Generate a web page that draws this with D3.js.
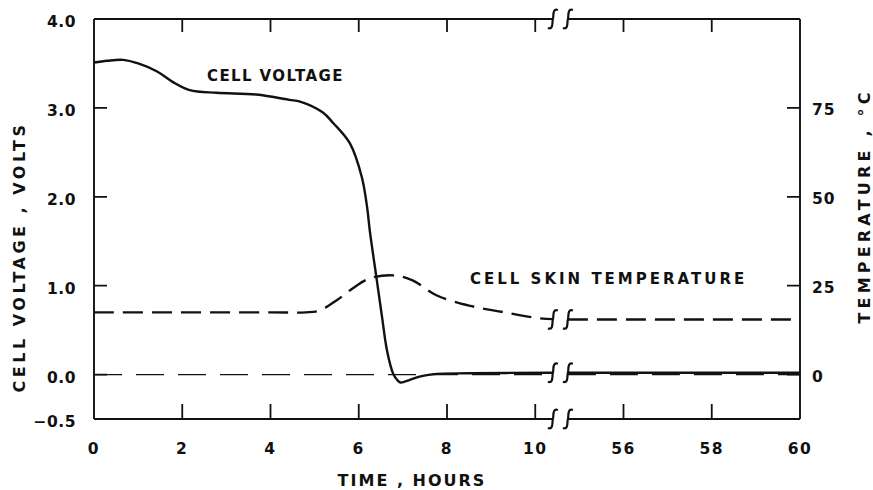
<!DOCTYPE html>
<html>
<head>
<meta charset="utf-8">
<script src="https://cdn.jsdelivr.net/npm/d3@7"></script>
<style>
  body { margin: 0; background: #fff; }
  text { font-family: "DejaVu Sans", sans-serif; font-weight: bold; fill: #111; }
</style>
</head>
<body>
<svg id="chart" width="873" height="490"></svg>
<script>
(function() {

  // cell voltage, volts
  var voltHours = [0, 0.3, 0.66, 1.0, 1.43, 1.79, 2.17, 2.78, 3.68, 4.43, 4.67, 5.18, 5.42, 5.8,
                   6.07, 6.19, 6.25, 6.41, 6.53, 6.64, 6.78, 6.89, 6.95, 7.16, 7.4, 7.7, 8.5, 10.4,
                   54.74, 60];
  var voltValues = [3.51, 3.53, 3.54, 3.50, 3.41, 3.29, 3.20, 3.17, 3.15, 3.09, 3.07, 2.95, 2.83, 2.60,
                    2.22, 1.88, 1.62, 1.06, 0.64, 0.27, 0.01, -0.07, -0.09, -0.06, -0.02, 0.005, 0.015, 0.02,
                    0.02, 0.02];

  // cell skin temperature, deg C
  var tempHours = [0, 4.0, 4.8, 5.11, 5.5, 5.86, 6.24, 6.77, 7.22, 7.76, 8.5, 9.26, 10.1, 10.4, 54.74, 60];
  var tempValues = [17.5, 17.5, 17.5, 18.0, 20.9, 24.2, 27.0, 27.9, 26.5, 22.3, 19.4, 17.6, 15.8, 15.6, 15.5, 15.5];

  var xTicks = [0, 2, 4, 6, 8, 10, 56, 58, 60];
  var voltTicks = [4.0, 3.0, 2.0, 1.0, 0.0, -0.5];
  var tempTicks = [0, 25, 50, 75];

  // broken time axis: 10.4 h jumps to 54.74 h
  var breakFrom = 10.4, breakTo = 54.74, breakShift = 44;

  var margin = { top: 19, right: 73, bottom: 71, left: 94 },
      svg = d3.select("#chart"),
      width = +svg.attr("width") - margin.left - margin.right,
      height = +svg.attr("height") - margin.top - margin.bottom;

  var g = svg.append("g").attr("transform", "translate(" + margin.left + "," + margin.top + ")");

  var disp = function(t) { return t > breakFrom + 1 ? t - breakShift : t; };

  var x = d3.scaleLinear().domain([0, 16]).range([0, width]);
  var yV = d3.scaleLinear().domain([-0.5, 4.0]).range([height, 0]);
  var yT = d3.scaleLinear().domain([-12.5, 100]).range([height, 0]);

  var xb0 = x(disp(breakFrom)), xb1 = x(disp(breakTo));
  var fmtV = d3.format(".1f");
  var inner = xTicks.filter(function(d) { return d !== 0 && d !== 60; });

  // tick marks, all pointing inward, as one path
  var tickPath = d3.path();
  inner.forEach(function(d) {
    var px = x(disp(d));
    tickPath.moveTo(px, 0); tickPath.lineTo(px, 13);
    tickPath.moveTo(px, height); tickPath.lineTo(px, height - 15);
  });
  voltTicks.forEach(function(d) { tickPath.moveTo(0, yV(d)); tickPath.lineTo(13, yV(d)); });
  tempTicks.forEach(function(d) { tickPath.moveTo(width, yT(d)); tickPath.lineTo(width - 13, yT(d)); });
  g.append("path").attr("d", tickPath.toString())
    .attr("fill", "none").attr("stroke", "#111").attr("stroke-width", 1.8);

  var frame = [
    [0, 0, 0, height], [width, 0, width, height],
    [0, 0, xb0, 0], [xb1, 0, width, 0],
    [0, height, xb0, height], [xb1, height, width, height]
  ];
  g.selectAll(".frame").data(frame).enter().append("line")
    .attr("x1", function(d) { return d[0]; }).attr("y1", function(d) { return d[1]; })
    .attr("x2", function(d) { return d[2]; }).attr("y2", function(d) { return d[3]; })
    .attr("stroke", "#111").attr("stroke-width", 1.9);

  // tick labels
  g.selectAll(".xlab").data(xTicks).enter().append("text")
    .attr("x", function(d) { return x(disp(d)); }).attr("y", height + 35)
    .attr("text-anchor", "middle").attr("font-size", 15.5).attr("letter-spacing", 1.5)
    .text(function(d) { return d; });
  g.selectAll(".ylab").data(voltTicks).enter().append("text")
    .attr("x", -18).attr("y", function(d) { return yV(d) + 8; })
    .attr("text-anchor", "end").attr("font-size", 15.5).attr("letter-spacing", 0.5)
    .text(function(d) { return d < 0 ? "\u2212" + fmtV(-d) : fmtV(d); });
  g.selectAll(".tlab").data(tempTicks).enter().append("text")
    .attr("x", width + 12).attr("y", function(d) { return yT(d) + 7; })
    .attr("font-size", 15.5).attr("letter-spacing", 1)
    .text(function(d) { return d; });

  // zero reference line
  [[0, breakFrom], [breakTo, 60]].forEach(function(s) {
    g.append("line")
      .attr("x1", x(disp(s[0]))).attr("x2", x(disp(s[1])))
      .attr("y1", yV(0)).attr("y2", yV(0))
      .attr("stroke", "#111").attr("stroke-width", 1.3)
      .attr("stroke-dasharray", "28,14");
  });

  var lineV = d3.line().curve(d3.curveCatmullRom.alpha(0.5))
    .x(function(d) { return x(disp(d[0])); }).y(function(d) { return yV(d[1]); });
  var lineT = d3.line().curve(d3.curveCatmullRom.alpha(0.5))
    .x(function(d) { return x(disp(d[0])); }).y(function(d) { return yT(d[1]); });

  var voltPts = d3.zip(voltHours, voltValues),
      tempPts = d3.zip(tempHours, tempValues);
  var before = function(d) { return d[0] <= breakFrom; },
      after = function(d) { return d[0] >= breakTo; };

  [voltPts.filter(before), voltPts.filter(after)].forEach(function(seg) {
    g.append("path").attr("d", lineV(seg))
      .attr("fill", "none").attr("stroke", "#111").attr("stroke-width", 2.4);
  });
  [tempPts.filter(before), tempPts.filter(after)].forEach(function(seg) {
    g.append("path").attr("d", lineT(seg))
      .attr("fill", "none").attr("stroke", "#111").attr("stroke-width", 2.4)
      .attr("stroke-dasharray", "20,9");
  });

  // break marks
  var breakPath = function(xc, yc) {
    return "M" + (xc + 5) + "," + (yc - 9) +
      " C" + (xc - 1) + "," + (yc - 11) + " " + (xc + 1) + "," + (yc - 2) + " " + xc + "," + yc +
      " C" + (xc - 1) + "," + (yc + 2) + " " + (xc + 1) + "," + (yc + 11) + " " + (xc - 5) + "," + (yc + 9);
  };
  var markYs = [0, height, yV(voltValues[voltValues.length - 1]), yT(tempValues[tempValues.length - 1])];
  markYs.forEach(function(yc) {
    [xb0, xb1].forEach(function(xc) {
      g.append("path").attr("d", breakPath(xc, yc))
        .attr("fill", "none").attr("stroke", "#111").attr("stroke-width", 2.2);
    });
  });

  // labels
  g.append("text").attr("x", 113).attr("y", 62).attr("font-size", 15).attr("letter-spacing", 1.4)
    .text("CELL VOLTAGE");
  g.append("text").attr("x", 376).attr("y", 265).attr("font-size", 15).attr("letter-spacing", 3)
    .text("CELL SKIN TEMPERATURE");

  svg.append("text").attr("x", 412).attr("y", 486).attr("text-anchor", "middle")
    .attr("font-size", 16).attr("letter-spacing", 2).text("TIME , HOURS");
  svg.append("text").attr("transform", "translate(25,257) rotate(-90)").attr("text-anchor", "middle")
    .attr("font-size", 16).attr("letter-spacing", 3.5).text("CELL VOLTAGE , VOLTS");
  svg.append("text").attr("transform", "translate(870,206) rotate(-90)").attr("text-anchor", "middle")
    .attr("font-size", 16).attr("letter-spacing", 4.2).text("TEMPERATURE , °C");

}());
</script>
</body>
</html>
